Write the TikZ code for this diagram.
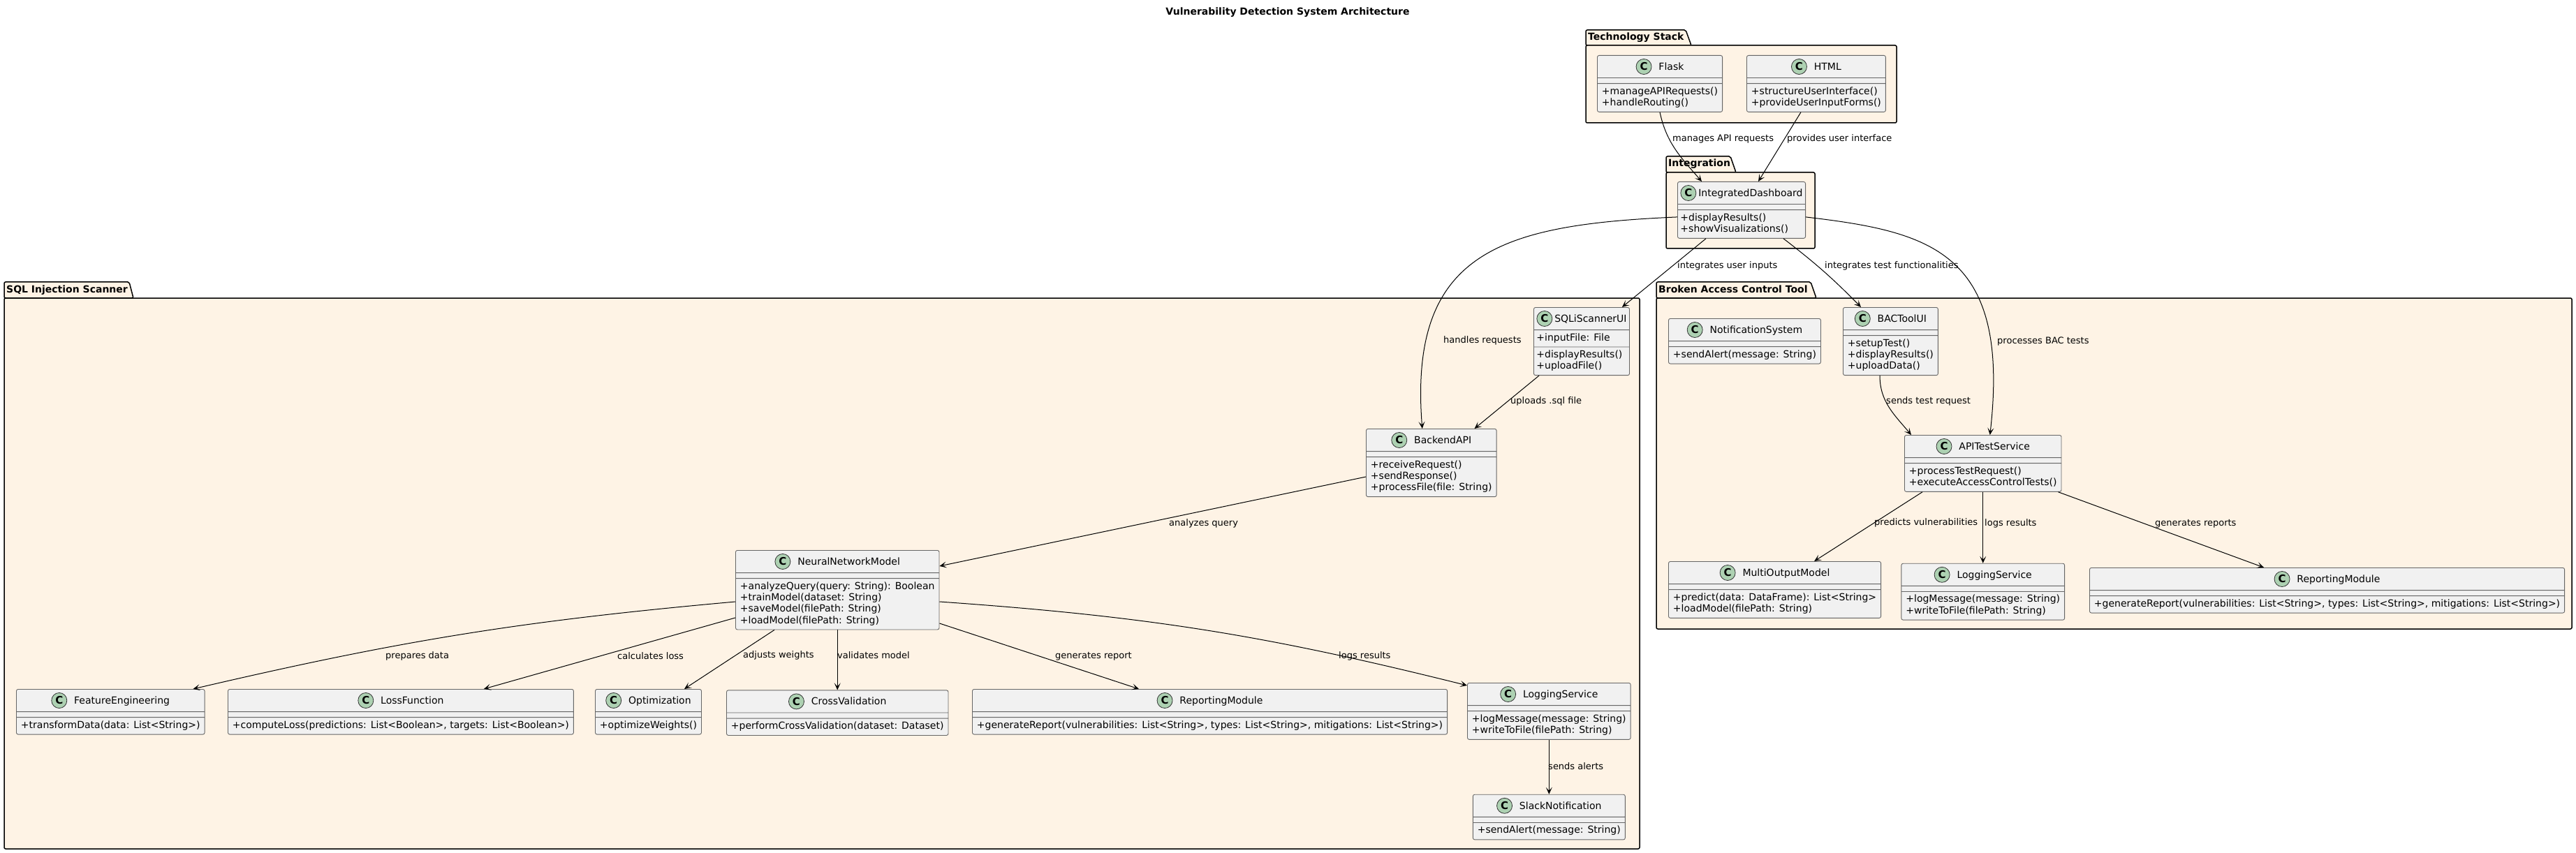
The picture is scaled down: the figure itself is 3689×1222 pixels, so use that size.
\documentclass[tikz,border=0pt]{standalone}
\usepackage{fontspec}
\setmainfont{DejaVu Sans}
\usepackage{tikz}
\usetikzlibrary{positioning,arrows.meta,shapes.multipart}

\definecolor{pkgfill}{HTML}{FEF3E5}
\definecolor{classfill}{HTML}{F1F1F1}
\definecolor{iconfill}{HTML}{ADD1B2}

\tikzset{
	classicon/.style={circle, anchor=center, draw=black!80, fill=iconfill, line width=0.8pt, minimum size=22pt, inner sep=0pt, font=\fontsize{15}{15}\selectfont\bfseries},
	classbox/.style={rectangle split, rectangle split parts=3, rectangle split part align={center,left,left},
		draw=black!60, fill=classfill, line width=0.9pt, rounded corners=2.5pt,
		inner xsep=6.5pt, inner ysep=3.6pt, font=\fontsize{14}{16.3}\selectfont, anchor=north west},
	pkg/.style={draw=black, line width=1.5pt, fill=pkgfill, rounded corners=2pt},
	pkgname/.style={font=\fontsize{14}{16}\selectfont\bfseries, anchor=base west, inner sep=0pt},
	lbl/.style={font=\fontsize{13}{15}\selectfont, anchor=west, inner sep=0pt},
	link/.style={-{Stealth[length=10pt, width=9pt, inset=5pt]}, line width=1pt}
}
\newcommand{\classC}{\tikz[x=1pt, y=1pt, baseline=-5pt]{\path (0,-12) -- (0,12); \node[classicon] at (0,0) {C};}}
\newcommand{\members}[1]{\begin{tabular}{@{}l@{}}#1\end{tabular}}
\newcommand{\noattrs}{\rule{1pt}{0pt}}

\begin{document}
\begin{tikzpicture}[x=1pt, y=-1pt]
		\useasboundingbox (0,0) rectangle (3689,1222);
		\node[font=\fontsize{14}{16}\selectfont\bfseries] (title) at (1844,18) {Vulnerability Detection System Architecture};

		% packages
		\draw[pkg] (2271,43) -- (2414,43) -- (2422,65) -- (2271,65) -- cycle;
		\draw[pkg] (2271,65) rectangle (2716,176);
		\node[pkgname] (techpkg) at (2274,58) {Technology Stack};
		\draw[pkg] (2386,224) -- (2478,224) -- (2486,247) -- (2386,247) -- cycle;
		\draw[pkg] (2386,247) rectangle (2599,356);
		\node[pkgname] (intpkg) at (2389,239) {Integration};
		\draw[pkg] (6,404) -- (185,404) -- (191,427) -- (6,427) -- cycle;
		\draw[pkg] (6,427) rectangle (2348,1216);
		\node[pkgname] (sqlpkg) at (9,419) {SQL Injection Scanner};
		\draw[pkg] (2372,404) -- (2593,404) -- (2601,427) -- (2372,427) -- cycle;
		\draw[pkg] (2372,427) rectangle (3683,901);
		\node[pkgname] (bacpkg) at (2375,419) {Broken Access Control Tool};

		% classes
		\node[classbox] (flask) at (2287,79) {\classC\hspace{10pt}Flask \nodepart{second}\noattrs\nodepart{third} \members{+manageAPIRequests()\\+handleRouting()}};
		\node[classbox] (html) at (2501,79) {\classC\hspace{10pt}HTML \nodepart{second}\noattrs\nodepart{third} \members{+structureUserInterface()\\+provideUserInputForms()}};
		\node[classbox, inner xsep=4pt] (dash) at (2402,260) {\classC\hspace{3pt}IntegratedDashboard \nodepart{second}\noattrs\nodepart{third} \members{+displayResults()\\+showVisualizations()}};

		\node[classbox, inner xsep=4pt] (sqliUI) at (2196,440) {\classC\hspace{3pt}SQLiScannerUI \nodepart{second} \members{+inputFile: File} \nodepart{third} \members{+displayResults()\\+uploadFile()}};
		\node[classbox] (backend) at (1956,614) {\classC\hspace{10pt}BackendAPI \nodepart{second}\noattrs\nodepart{third} \members{+receiveRequest()\\+sendResponse()\\+processFile(file: String)}};
		\node[classbox] (nnm) at (1053,788) {\classC\hspace{10pt}NeuralNetworkModel \nodepart{second}\noattrs\nodepart{third} \members{+analyzeQuery(query: String): Boolean\\+trainModel(dataset: String)\\+saveModel(filePath: String)\\+loadModel(filePath: String)}};
		\node[classbox] (featEng) at (23,987) {\classC\hspace{10pt}FeatureEngineering \nodepart{second}\noattrs\nodepart{third} \members{+transformData(data: List<String>)}};
		\node[classbox] (lossFn) at (326,987) {\classC\hspace{10pt}LossFunction \nodepart{second}\noattrs\nodepart{third} \members{+computeLoss(predictions: List<Boolean>, targets: List<Boolean>)}};
		\node[classbox] (optim) at (852,987) {\classC\hspace{10pt}Optimization \nodepart{second}\noattrs\nodepart{third} \members{+optimizeWeights()}};
		\node[classbox, below=86pt of nnm] (crossVal) {\classC\hspace{10pt}CrossValidation \nodepart{second}\noattrs\nodepart{third} \members{+performCrossValidation(dataset: Dataset)}};
		\node[classbox] (reportSql) at (1392,987) {\classC\hspace{10pt}ReportingModule \nodepart{second}\noattrs\nodepart{third} \members{+generateReport(vulnerabilities: List<String>, types: List<String>, mitigations: List<String>)}};
		\node[classbox] (logSql) at (2101,978) {\classC\hspace{10pt}LoggingService \nodepart{second}\noattrs\nodepart{third} \members{+logMessage(message: String)\\+writeToFile(filePath: String)}};
		\node[classbox, below=78pt of logSql] (slack) {\classC\hspace{10pt}SlackNotification \nodepart{second}\noattrs\nodepart{third} \members{+sendAlert(message: String)}};

		\node[classbox] (notify) at (2389,456) {\classC\hspace{10pt}NotificationSystem \nodepart{second}\noattrs\nodepart{third} \members{+sendAlert(message: String)}};
		\node[classbox] (bacUI) at (2639,440) {\classC\hspace{10pt}BACToolUI \nodepart{second}\noattrs\nodepart{third} \members{+setupTest()\\+displayResults()\\+uploadData()}};
		\node[classbox] (apiTest) at (2727,623) {\classC\hspace{10pt}APITestService \nodepart{second}\noattrs\nodepart{third} \members{+processTestRequest()\\+executeAccessControlTests()}};
		\node[classbox] (multiOut) at (2389,804) {\classC\hspace{10pt}MultiOutputModel \nodepart{second}\noattrs\nodepart{third} \members{+predict(data: DataFrame): List<String>\\+loadModel(filePath: String)}};
		\node[classbox, below=102pt of apiTest] (bacLog) {\classC\hspace{10pt}LoggingService \nodepart{second}\noattrs\nodepart{third} \members{+logMessage(message: String)\\+writeToFile(filePath: String)}};
		\node[classbox] (reportBac) at (2992,813) {\classC\hspace{10pt}ReportingModule \nodepart{second}\noattrs\nodepart{third} \members{+generateReport(vulnerabilities: List<String>, types: List<String>, mitigations: List<String>)}};

		% links
		\draw[link] (flask.south) to[out=-78, in=131] ([xshift=35pt]dash.north west);
		\draw[link] ([xshift=-22pt]html.south) -- ([xshift=116pt]dash.north west);
		\draw[link] ([xshift=41pt]dash.south west) -- ([xshift=-11pt]sqliUI.north east);
		\draw[link] ([xshift=-32pt]dash.south east) to[bend left=4] ([xshift=26pt]bacUI.north west);
		\draw[link] ([yshift=-10pt]dash.west) .. controls +(-252,11) and +(-20,-254) .. ([xshift=-13pt]backend.north);
		\draw[link] ([yshift=-10pt]dash.east) .. controls +(178,21) and +(30,-263) .. ([xshift=10pt]apiTest.north);
		\draw[link] ([xshift=8pt]sqliUI.south west) -- ([xshift=-32pt]backend.north east);
		\draw[link] ([yshift=-20pt]backend.west) -- ([yshift=-23pt]nnm.north east);
		\draw[link] ([yshift=-74pt]nnm.north west) to[bend right=4] ([xshift=-17pt]featEng.north east);
		\draw[link] ([yshift=-97pt]nnm.north west) -- ([xshift=-129pt]lossFn.north east);
		\draw[link] ([xshift=56pt]nnm.south west) -- ([xshift=-25pt]optim.north east);
		\draw[link] (nnm.south) -- (crossVal.north);
		\draw[link] ([yshift=-105pt]nnm.north east) -- ([xshift=239pt]reportSql.north west);
		\draw[link] ([yshift=-74pt]nnm.north east) to[bend left=5] ([yshift=-4pt]logSql.north west);
		\draw[link] (logSql.south) -- (slack.north);
		\draw[link] ([xshift=53pt]bacUI.south west) to[out=-90, in=130] ([xshift=10pt]apiTest.north west);
		\draw[link] ([xshift=26pt]apiTest.south west) -- ([xshift=-96pt]multiOut.north east);
		\draw[link] (apiTest.south) -- (bacLog.north);
		\draw[link] ([xshift=-5pt]apiTest.south east) -- ([xshift=250pt]reportBac.north west);

		% link labels
		\node[lbl] (lManages) at (2395,199) {manages API requests};
		\node[lbl] (lProvides) at (2559,199) {provides user interface};
		\node[lbl] (lInputs) at (2402,381) {integrates user inputs};
		\node[lbl] (lFunc) at (2613,381) {integrates test functionalities};
		\node[lbl] (lHandles) at (2067,488) {handles requests};
		\node[lbl] (lProcesses) at (2860,489) {processes BAC tests};
		\node[lbl] (lUploads) at (2163,575) {uploads .sql file};
		\node[lbl] (lSends) at (2701,575) {sends test request};
		\node[lbl] (lAnalyzes) at (1674,750) {analyzes query};
		\node[lbl] (lPrepares) at (552,940) {prepares data};
		\node[lbl] (lLoss) at (884,940) {calculates loss};
		\node[lbl] (lWeights) at (1064,939) {adjusts weights};
		\node[lbl] (lValidates) at (1199,939) {validates model};
		\node[lbl] (lReport) at (1511,940) {generates report};
		\node[lbl] (lLogsSql) at (1917,940) {logs results};
		\node[lbl] (lAlerts) at (2217,1098) {sends alerts};
		\node[lbl] (lPredicts) at (2684,749) {predicts vulnerabilities};
		\node[lbl] (lLogsBac) at (2842,750) {logs results};
		\node[lbl] (lReports) at (3086,750) {generates reports};
\end{tikzpicture}
\end{document}
